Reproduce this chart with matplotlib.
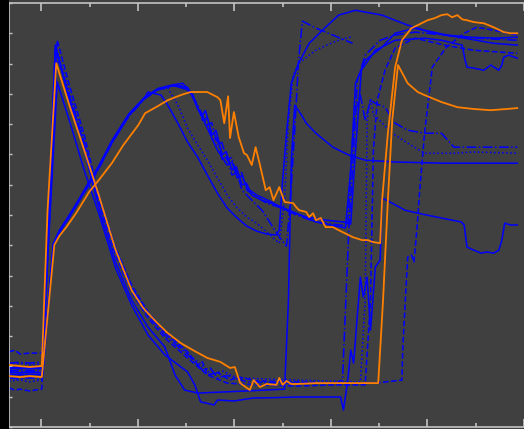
import matplotlib
matplotlib.use("Agg")
import matplotlib.pyplot as plt
from matplotlib.patches import Rectangle

# ---- data (x: time units, y: level units) ----
o1 = [(-6.7,2.05),(-4.4,2.01),(-2.4,1.98),(-0.1,2.01),(0.1,2.01),(1.3,7.16),(3.1,12.01),(5.8,10.63),(8.9,9.14),
      (11.9,7.66),(15.4,5.84),(18.7,4.52),(21.1,3.93),(23.8,3.47),(26.2,3.1),(28.9,2.77),(31.4,2.54),(34.4,2.28),
      (37.1,2.15),(39.1,1.95),(40.1,1.98),(41.2,1.45),(43.2,1.22),(44.0,1.55),(45.3,1.32),(46.7,1.42),(48.7,1.39),
      (49.3,1.62),(50.0,1.39),(50.8,1.52),(51.8,1.42),(52.8,1.42),(56.9,1.45),(61.0,1.45),(65.1,1.45),(69.8,1.45),
      (70.8,4.19),(71.8,7.49),(72.7,10.13),(73.9,11.95),(75.9,11.35),(78.0,11.06),(79.4,10.96),(82.9,10.73),
      (86.2,10.56),(89.6,10.5),(93.1,10.46),(96.4,10.5),(98.6,10.53)]

o2 = [(-6.7,1.68),(-4.4,1.65),(-2.4,1.68),(-0.1,1.65),(0.1,1.65),(2.7,6.01),(3.7,6.3),(5.2,6.6),(7.2,7.06),
      (9.9,7.76),(11.9,8.15),(14.6,8.71),(17.0,9.31),(20.1,9.97),(21.5,10.36),(24.2,10.6),(26.2,10.79),(28.9,10.96),
      (30.9,11.06),(34.4,11.06),(36.5,10.89),(37.1,10.79),(37.9,10.03),(38.7,10.92),(39.1,9.54),(39.9,10.4),
      (40.9,9.57),(42.0,9.04),(42.6,8.98),(43.6,8.65),(44.4,9.24),(45.3,8.65),(46.5,7.82),(47.3,7.92),(48.1,7.49),
      (49.3,7.92),(50.4,7.43),(52.2,7.39),(52.8,7.26),(53.4,7.16),(54.9,7.1),(55.5,6.93),(56.3,7.06),(56.9,6.83),
      (57.9,6.9),(58.9,6.6),(60.4,6.6),(61.6,6.5),(64.5,6.27),(66.5,6.17),(67.7,6.17),(68.6,6.11),(70.2,6.07),
      (70.6,7.49),(71.8,9.7),(73.3,11.88),(74.7,12.77),(76.7,13.17),(78.0,13.27),(80.0,13.43),(81.5,13.5),
      (82.9,13.6),(84.1,13.63),(85.1,13.53),(86.2,13.6),(87.2,13.46),(88.2,13.43),(89.6,13.37),(91.7,13.33),
      (93.7,13.2),(95.8,13.04),(97.2,13.0),(98.6,13.0)]

a1 = [(-6.7,1.95),(-4.4,1.98),(-2.4,1.95),(-0.1,1.98),(0.1,1.98),(3.3,11.39),(5.8,10.13),(8.9,8.48),(11.9,7.06),
      (15.4,5.25),(18.7,4.03),(22.1,3.04),(25.6,2.38),(30.3,1.82),(31.8,1.39),(33.0,0.83),(35.8,0.73),(36.5,0.89),
      (40.0,0.86),(44.0,0.96),(46.1,0.96),(52.8,0.99),(58.9,0.99),(62.0,0.99),(62.6,0.56),(63.5,1.55),(64.1,2.54),
      (64.7,2.11),(66.1,4.95),(66.7,4.29),(67.5,4.95),(68.2,3.2),(69.2,5.28),(70.2,5.51),(70.6,7.56),(72.7,7.39),
      (75.3,7.16),(78.0,7.06),(82.9,6.9),(87.0,6.77),(87.6,6.67),(88.2,5.94),(89.6,5.84),(91.1,5.74),(92.3,5.78),
      (93.7,5.74),(94.8,5.84),(95.4,6.17),(96.0,6.73),(97.2,6.67),(98.6,6.67)]

a2 = [(-6.7,1.82),(-4.4,1.79),(-2.4,1.82),(-0.1,1.79),(0.1,1.79),(2.9,12.61),(5.8,10.79),(8.9,9.14),(11.9,7.26),
      (15.4,5.45),(18.7,4.19),(22.1,3.3),(25.6,2.64),(27.7,1.72),(29.7,1.22),(32.4,1.12),(42.6,1.19),(50.4,1.25),
      (51.2,4.19),(51.8,8.81),(52.5,10.63),(53.9,10.3),(54.9,10.03),(56.9,9.7),(60.4,9.24),(63.7,8.98),(67.1,8.81),
      (73.3,8.75),(83.5,8.71),(98.6,8.71)]

a3 = [(-6.7,2.48),(-5.5,2.54),(-4.4,2.41),(-2.4,2.44),(-0.1,2.44),(0.1,2.44),(3.3,12.77),(5.8,11.29),(8.9,9.64),
      (11.9,7.66),(15.4,5.91),(18.7,4.69),(22.1,3.8),(25.6,3.14),(30.3,2.48),(32.4,2.05),(33.4,2.15),(34.4,1.72),
      (36.5,1.8),(39.1,1.55),(41.0,1.65),(44.6,1.52),(52.8,1.49),(61.0,1.45),(69.2,1.45),(74.7,1.55),(74.9,2.64),
      (75.9,5.61),(76.7,5.68),(77.2,5.45),(77.8,6.5),(78.4,7.82),(79.4,9.7),(81.0,11.88),(83.9,12.54),(87.6,13.0),
      (90.2,13.2),(93.7,13.1),(98.6,12.94)]

a4 = [(-6.7,1.62),(-4.4,1.59),(-2.4,1.62),(-0.1,1.59),(0.1,1.59),(2.9,12.44),(5.8,10.96),(8.9,9.37),(11.9,7.56),
      (15.4,5.84),(18.7,4.59),(22.1,3.7),(25.6,3.04),(30.3,2.38),(31.5,2.2),(33.4,1.88),(35.0,1.95),(36.5,1.62),
      (38.5,1.7),(42.6,1.49),(50.8,1.45),(61.0,1.45),(62.4,1.55),(63.7,6.5),(64.7,9.14),(65.5,11.45),(67.1,12.28),
      (70.2,12.77),(73.3,12.94),(77.4,13.04),(83.5,12.94),(89.6,12.84),(98.6,12.77)]

a5 = [(-6.7,1.52),(-4.4,1.55),(-2.4,1.49),(-0.1,1.55),(0.1,1.55),(3.1,12.54),(5.8,11.06),(8.9,9.47),(11.9,7.49),
      (15.4,5.78),(18.7,4.62),(22.1,3.76),(25.6,3.1),(30.3,2.44),(32.8,2.1),(35.4,1.72),(37.5,1.85),(40.6,1.62),
      (52.8,1.55),(66.1,1.49),(67.1,4.19),(67.5,10.13),(68.2,10.86),(68.8,10.3),(69.6,10.2),(72.7,9.7),(75.9,9.37),
      (79.4,9.04),(85.5,9.04),(89.6,9.08),(98.6,9.04)]

a6 = [(-6.7,1.29),(-5.5,1.22),(-4.4,1.25),(-2.4,1.19),(-0.1,1.25),(0.1,1.25),(3.3,12.38),(5.8,10.89),(8.9,9.31),
      (11.9,7.43),(15.4,5.68),(18.7,4.46),(22.1,3.6),(25.6,2.94),(30.3,2.28),(34.4,1.72),(38.5,1.45),(44.6,1.39),
      (52.8,1.35),(61.0,1.39),(67.1,1.39),(68.2,4.19),(68.8,9.14),(69.6,10.79),(71.2,11.78),(73.3,12.51),
      (77.4,12.84),(83.5,12.61),(89.6,12.44),(98.6,12.34)]

b1 = [(-6.7,1.82),(-4.4,1.79),(-2.4,1.82),(-0.1,1.79),(0.3,1.8),(2.5,6.05),(3.7,6.48),(5.8,7.0),(7.8,7.52),
      (9.9,8.1),(11.9,8.62),(14.6,9.45),(18.1,10.33),(21.5,10.9),(22.1,11.06),(24.8,10.96),(26.2,10.63),
      (28.3,10.03),(30.3,9.41),(32.4,8.91),(34.4,8.32),(36.5,7.72),(38.5,7.23),(40.6,6.9),(42.6,6.63),(44.6,6.47),
      (46.7,6.37),(48.7,6.34),(49.3,6.5),(50.0,8.15),(50.8,9.7),(51.8,11.35),(53.3,12.01),(55.5,12.67),(58.9,13.2),
      (61.6,13.6),(65.1,13.76),(67.1,13.7),(70.6,13.6),(73.3,13.43),(75.9,13.27),(79.4,13.1),(84.1,12.94),
      (89.0,12.87),(94.3,12.84),(98.6,12.87)]

b2 = [(-6.7,2.08),(-4.4,2.1),(-2.4,2.05),(-0.1,2.08),(0.3,2.08),(2.5,6.0),(3.7,6.42),(5.8,6.95),(7.8,7.47),
      (9.9,8.02),(11.9,8.55),(14.6,9.38),(18.1,10.27),(21.5,10.86),(24.2,11.14),(26.2,11.19),(28.3,10.63),
      (30.3,9.87),(32.4,9.31),(34.4,8.81),(36.5,8.22),(38.5,7.66),(40.6,7.23),(42.6,6.93),(44.6,6.73),(46.7,6.44),
      (49.3,6.07),(50.4,7.49),(51.2,10.13),(52.2,11.62),(53.3,12.01),(56.9,12.44),(61.0,12.74),(64.5,12.9)]

b3 = [(-6.7,2.11),(-4.4,2.14),(-2.4,2.11),(-0.1,2.14),(0.3,2.12),(2.5,5.98),(3.7,6.4),(5.8,6.92),(7.8,7.45),
      (9.9,8.0),(11.9,8.52),(14.6,9.36),(18.1,10.25),(21.5,10.85),(24.2,11.13),(27.3,11.26),(29.3,11.27),
      (31.4,10.96),(33.4,10.13),(34.4,10.2),(35.4,9.47),(36.4,9.55),(37.5,8.81),(38.4,8.95),(39.5,8.32),
      (40.5,8.4),(41.6,7.82),(43.6,7.49),(45.7,7.16),(47.7,6.67),(49.8,6.17),(50.8,5.97),(51.6,7.49),(52.5,9.8),
      (53.3,12.11),(54.1,13.4),(56.9,13.17),(61.0,12.9),(64.5,12.67)]

b4 = [(-6.7,1.95),(-4.4,1.92),(-2.4,1.95),(-0.1,1.92),(0.3,1.93),(2.5,6.03),(3.7,6.46),(5.8,6.98),(7.8,7.5),
      (9.9,8.07),(11.9,8.6),(14.6,9.43),(18.1,10.31),(21.5,10.9),(24.2,11.18),(27.3,11.3),(29.3,11.35),
      (31.4,10.96),(32.4,10.5),(33.4,10.3),(34.0,10.45),(35.4,9.64),(36.2,9.8),(37.5,8.98),(38.3,9.1),
      (39.5,8.48),(40.4,8.6),(41.6,7.99),(42.5,8.05),(43.6,7.66),(45.7,7.49),(48.7,7.33),(52.8,7.06),(56.9,6.77),
      (60.0,6.67),(63.0,6.57),(64.1,8.48),(65.1,11.35),(67.1,12.11),(70.6,12.54),(73.3,13.0),(77.4,13.17),
      (81.5,13.0),(87.6,12.84),(93.7,12.67),(98.6,12.61)]

b5 = [(-6.7,1.88),(-4.4,1.85),(-2.4,1.88),(-0.1,1.85),(0.3,1.86),(2.5,6.0),(3.7,6.42),(5.8,6.94),(7.8,7.46),
      (9.9,8.03),(11.9,8.56),(14.6,9.38),(18.1,10.28),(21.5,10.87),(24.2,11.15),(27.3,11.27),(30.3,11.22),
      (32.4,10.63),(34.4,9.97),(35.3,10.05),(36.5,9.31),(37.4,9.4),(38.5,8.81),(39.4,8.9),(40.6,8.32),(41.5,8.4),
      (42.6,7.82),(44.6,7.59),(46.7,7.39),(49.8,7.23),(52.8,7.0),(56.9,6.77),(62.0,6.67),(63.5,6.63),(64.3,9.14),
      (65.1,10.46),(66.1,10.96),(67.1,10.13),(68.2,10.79),(69.2,10.69),(71.2,10.56),(73.3,10.03),(75.9,9.8),
      (79.4,9.7),(82.9,9.7),(85.5,9.24),(98.6,9.24)]

b6 = [(-6.7,1.75),(-4.4,1.72),(-2.4,1.75),(-0.1,1.72),(0.3,1.73),(2.5,6.02),(3.7,6.45),(5.8,6.97),(7.8,7.49),
      (9.9,8.05),(11.9,8.58),(14.6,9.4),(18.1,10.3),(21.5,10.88),(24.2,11.16),(27.3,11.28),(30.7,11.12),
      (32.4,10.53),(34.4,9.87),(36.5,9.14),(38.5,8.65),(39.5,8.75),(40.6,8.22),(41.6,8.3),(42.6,7.89),(44.6,7.66),
      (47.7,7.43),(50.8,7.16),(54.9,6.93),(58.9,6.83),(62.6,6.77),(64.1,6.7),(65.1,9.14),(66.3,11.78),(69.2,12.44),
      (73.3,12.77),(79.4,12.84),(82.9,12.77),(85.5,12.67),(87.2,12.61),(87.8,12.11),(88.2,11.88),(89.6,11.85),
      (91.7,11.78),(93.1,11.95),(94.8,11.78),(95.4,11.95),(95.8,12.21),(96.8,12.28),(98.6,12.18)]

blue_series = [a1, a2, a3, a4, a5, a6, b1, b2, b3, b4, b5, b6]
orange_series = [o1, o2]

# ---- styling ----
blue_styles = ['-', '-', '--', '-.', ':', '--', '-', ':', '-.', '-', '-.', '-']
BG = '#404040'
TICK = '#c4c4c4'

W, H = 524, 429
fig = plt.figure(figsize=(W / 100, H / 100), dpi=100, facecolor=BG)
fig.patches.append(Rectangle((0, 0), 9 / W, 1, transform=fig.transFigure,
                             facecolor='black', edgecolor='none', zorder=0))
ax = fig.add_axes([9 / W, 2 / H, (W - 9) / W, 424 / H])
ax.set_facecolor(BG)

for s, ls in zip(blue_series, blue_styles):
    xs = [p[0] for p in s]
    ys = [p[1] for p in s]
    ax.plot(xs, ys, color='#0000ff', linestyle=ls, linewidth=1.1, zorder=2)
for s in orange_series:
    xs = [p[0] for p in s]
    ys = [p[1] for p in s]
    ax.plot(xs, ys, color='#ff8000', linestyle='-', linewidth=1.3, zorder=3)

ax.set_xlim(-6.69, 98.6)
ax.set_ylim(0, 14)
ax.set_xticks(range(0, 101, 20))
ax.set_xticks(range(10, 101, 20), minor=True)
ax.set_yticks(range(0, 15))
ax.tick_params(axis='x', which='major', direction='in', length=6, width=1.2, color=TICK,
               top=True, bottom=True, labelbottom=False, labeltop=False)
ax.tick_params(axis='x', which='minor', direction='in', length=3, width=1.2, color=TICK,
               top=True, bottom=True)
ax.tick_params(axis='y', which='major', direction='in', length=2.2, width=1.0, color=TICK,
               left=True, right=False, labelleft=False)
for side in ('top', 'bottom', 'left'):
    ax.spines[side].set_color(TICK)
    ax.spines[side].set_linewidth(1.2)
ax.spines['right'].set_visible(False)

fig.savefig('out.png', dpi=100, facecolor=BG)
